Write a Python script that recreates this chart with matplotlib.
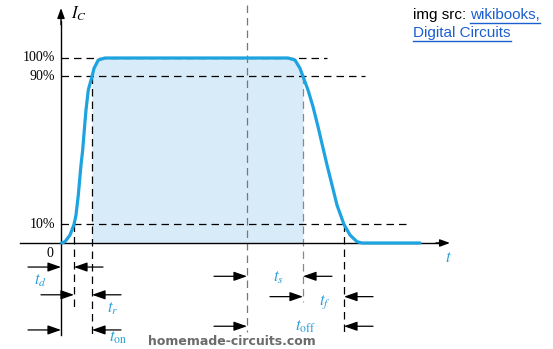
import numpy as np
import matplotlib
matplotlib.use("Agg")
import matplotlib.pyplot as plt

plt.rcParams['mathtext.fontset'] = 'stix'

# collector current pulse (time in arbitrary units, I_C in %)
rise_t = [0.07, 0.4, 0.9, 1.3, 1.5, 1.73, 2.0, 2.17, 2.33, 2.5, 2.73, 3.1, 3.3, 3.73, 4.4]
rise_pct = [0, 0.7, 4.3, 10, 15.1, 25.9, 42.2, 50.3, 61.1, 71.9, 82.7, 90, 94.4, 98.9, 100]
fall_t = [22.7, 23.4, 23.9, 24.2, 24.7, 25.2, 25.7, 26.15, 26.6, 27.1, 27.6, 28.3, 28.9,
          29.6, 30.1, 35.9]
fall_pct = [100, 98.9, 94.4, 90, 82.7, 73.7, 62.9, 52.5, 42.2, 31.4, 20.5, 10, 4.3,
            0.7, 0, 0]

levels = [100, 90, 10]
level_labels = ['100%', '90%', '10%']
level_ends = [26.6, 30.4, 34.7]

t10_on, t90_on = 1.3, 3.1
t_mid = 18.6
t90_off, t10_off = 24.2, 28.3

# measurement arrows: (label, left time, right time, row level, label pos)
spans = [
    (r'$t_d$', 0.0, t10_on, -13, (-2.1, -20)),
    (r'$t_r$', t10_on, t90_on, -28, (5.2, -35)),
    (r'$t_{\mathrm{on}}$', 0.0, t90_on, -47, (5.7, -51)),
    (r'$t_s$', t_mid, t90_off, -18, (21.7, -18.5)),
    (r'$t_f$', t90_off, t10_off, -29, (26.4, -32)),
    (r'$t_{\mathrm{off}}$', t_mid, t10_off, -45, (24.4, -45)),
]

blue = '#1ca3e0'
fill_c = '#d8ebf8'
lbl_c = '#2a9fd8'

fig = plt.figure(figsize=(5.53, 3.49), dpi=100)
ax = fig.add_axes([0, 0, 1, 1])
ax.set_xlim(-6.1, 49.2)
ax.set_ylim(-57.3, 131.35)
ax.axis('off')

t = np.array(rise_t + fall_t)
i_c = np.array(rise_pct + fall_pct)
mask = (t >= t90_on) & (t <= t90_off)
ax.fill_between(t[mask], 0, i_c[mask], color=fill_c, lw=0, zorder=1)

dash = (0, (6, 4))
for lev, end in zip(levels, level_ends):
    ax.plot([0, end], [lev, lev], color='black', lw=0.9, ls=dash, zorder=2)

ax.plot([t10_on, t10_on], [10, -35], color='black', lw=0.9, ls=dash, zorder=2)
ax.plot([t90_on, t90_on], [90, -50], color='black', lw=0.9, ls=dash, zorder=2)
ax.plot([t_mid, t_mid], [128.6, -48], color='#777777', lw=0.9, ls=dash, zorder=2)
ax.plot([t90_off, t90_off], [90, -32], color='#888888', lw=0.9, ls=dash, zorder=2)
ax.plot([t10_off, t10_off], [10, -48], color='black', lw=0.9, ls=dash, zorder=2)

# axes
ax.plot([0, 0], [-49.7, 120], color='black', lw=1, zorder=3)
ax.annotate('', xy=(0, 127), xytext=(0, 118),
            arrowprops=dict(arrowstyle='-|>,head_length=0.6,head_width=0.22',
                            color='black', lw=1, shrinkA=0, shrinkB=0, mutation_scale=10))
ax.plot([-4.1, 38.0], [0, 0], color='black', lw=1, zorder=3)
ax.annotate('', xy=(38.9, 0), xytext=(37.5, 0),
            arrowprops=dict(arrowstyle='-|>,head_length=0.6,head_width=0.22',
                            color='black', lw=1, shrinkA=0, shrinkB=0, mutation_scale=10))

ax.plot(t, i_c, color=blue, lw=2.3, solid_capstyle='round', solid_joinstyle='round', zorder=4)

for lev, lab in zip(levels, level_labels):
    ax.text(-0.6, lev, lab, ha='right', va='center', fontsize=10,
            family='Liberation Serif')
ax.text(-0.8, -5.5, '0', ha='right', va='center', fontsize=10, family='Liberation Serif')
ax.text(1.0, 124, r'$I_C$', ha='left', va='center', fontsize=12)
ax.text(38.7, -7.5, r'$t$', ha='center', va='center', fontsize=12, color=lbl_c)

arrow_kw = dict(arrowstyle='-|>,head_length=0.8,head_width=0.28', color='black',
                lw=0.9, shrinkA=0, shrinkB=0, mutation_scale=10)
for lab, t0, t1, row, pos in spans:
    ax.annotate('', xy=(t0, row), xytext=(t0 - 3.3, row), arrowprops=arrow_kw)
    ax.annotate('', xy=(t1, row), xytext=(t1 + 2.9, row), arrowprops=arrow_kw)
    ax.text(pos[0], pos[1], lab, ha='center', va='center', fontsize=12, color=lbl_c)

ax.text(17.1, -53.5, 'homemade-circuits.com', ha='center', va='center', fontsize=9,
        fontweight='bold', color='#6b6b6b', family='DejaVu Sans')

# source note with underlined links
t1 = fig.text(413 / 553, 1 - 15 / 349, 'img src: ', ha='left', va='center', fontsize=11,
              family='Liberation Sans', color='black')
fig.canvas.draw()
r = fig.canvas.get_renderer()
bb = t1.get_window_extent(r)
link1 = fig.text(bb.x1 / 553, 1 - 15 / 349, 'wikibooks,', ha='left', va='center',
                 fontsize=11, family='Liberation Sans', color='#1a5fd0')
link2 = fig.text(413 / 553, 1 - 33 / 349, 'Digital Circuits', ha='left', va='center',
                 fontsize=11, family='Liberation Sans', color='#1a5fd0')
fig.canvas.draw()
for lk in (link1, link2):
    b = lk.get_window_extent(r)
    yline = (b.y0 - 0.5) / 349
    fig.add_artist(plt.Line2D([b.x0 / 553, b.x1 / 553], [yline, yline],
                              color='#1a5fd0', lw=1, transform=fig.transFigure))

fig.savefig('out.png', dpi=100)
